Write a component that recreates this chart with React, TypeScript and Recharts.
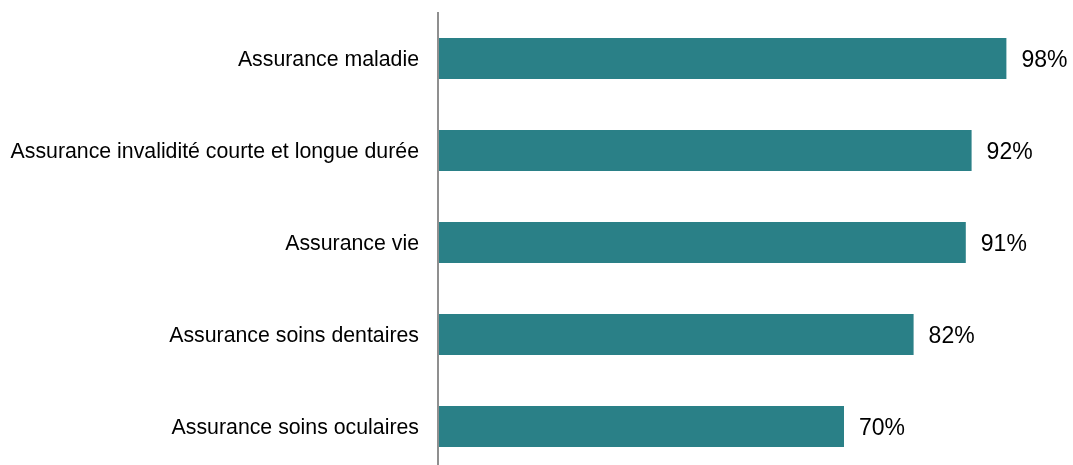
import React from "react";
import { BarChart, Bar, XAxis, YAxis, LabelList } from "recharts";

const categories = [
  "Assurance maladie",
  "Assurance invalidité courte et longue durée",
  "Assurance vie",
  "Assurance soins dentaires",
  "Assurance soins oculaires",
];
const values = [98, 92, 91, 82, 70];

const data = categories.map((name, i) => ({ name, value: values[i] }));

const FONT = "'Liberation Sans', Arial, sans-serif";

export default function App() {
  // fixed box so the tall chart does not make the page scroll
  return (
    <div
      style={{
        position: "fixed",
        top: 8,
        left: 8,
        width: 1065,
        height: 457,
        overflow: "hidden",
        fontFamily: FONT,
      }}
    >
      <BarChart
        width={1065}
        height={470}
        data={data}
        layout="vertical"
        margin={{ top: 4, right: 55, bottom: 6, left: 0 }}
      >
        <XAxis type="number" domain={[0, 100]} hide />
        <YAxis
          type="category"
          dataKey="name"
          width={430}
          tickLine={false}
          tickSize={0}
          tickMargin={19}
          axisLine={{ stroke: "#8f8f8f", strokeWidth: 2 }}
          tick={{ fill: "#000", fontSize: 21.3, fontFamily: FONT }}
          interval={0}
        />
        <Bar dataKey="value" fill="#2a8087" barSize={41} isAnimationActive={false}>
          <LabelList
            dataKey="value"
            position="right"
            offset={15}
            formatter={(v: any) => `${v}%`}
            style={{ fill: "#000", fontSize: 23, fontFamily: FONT }}
          />
        </Bar>
      </BarChart>
    </div>
  );
}
